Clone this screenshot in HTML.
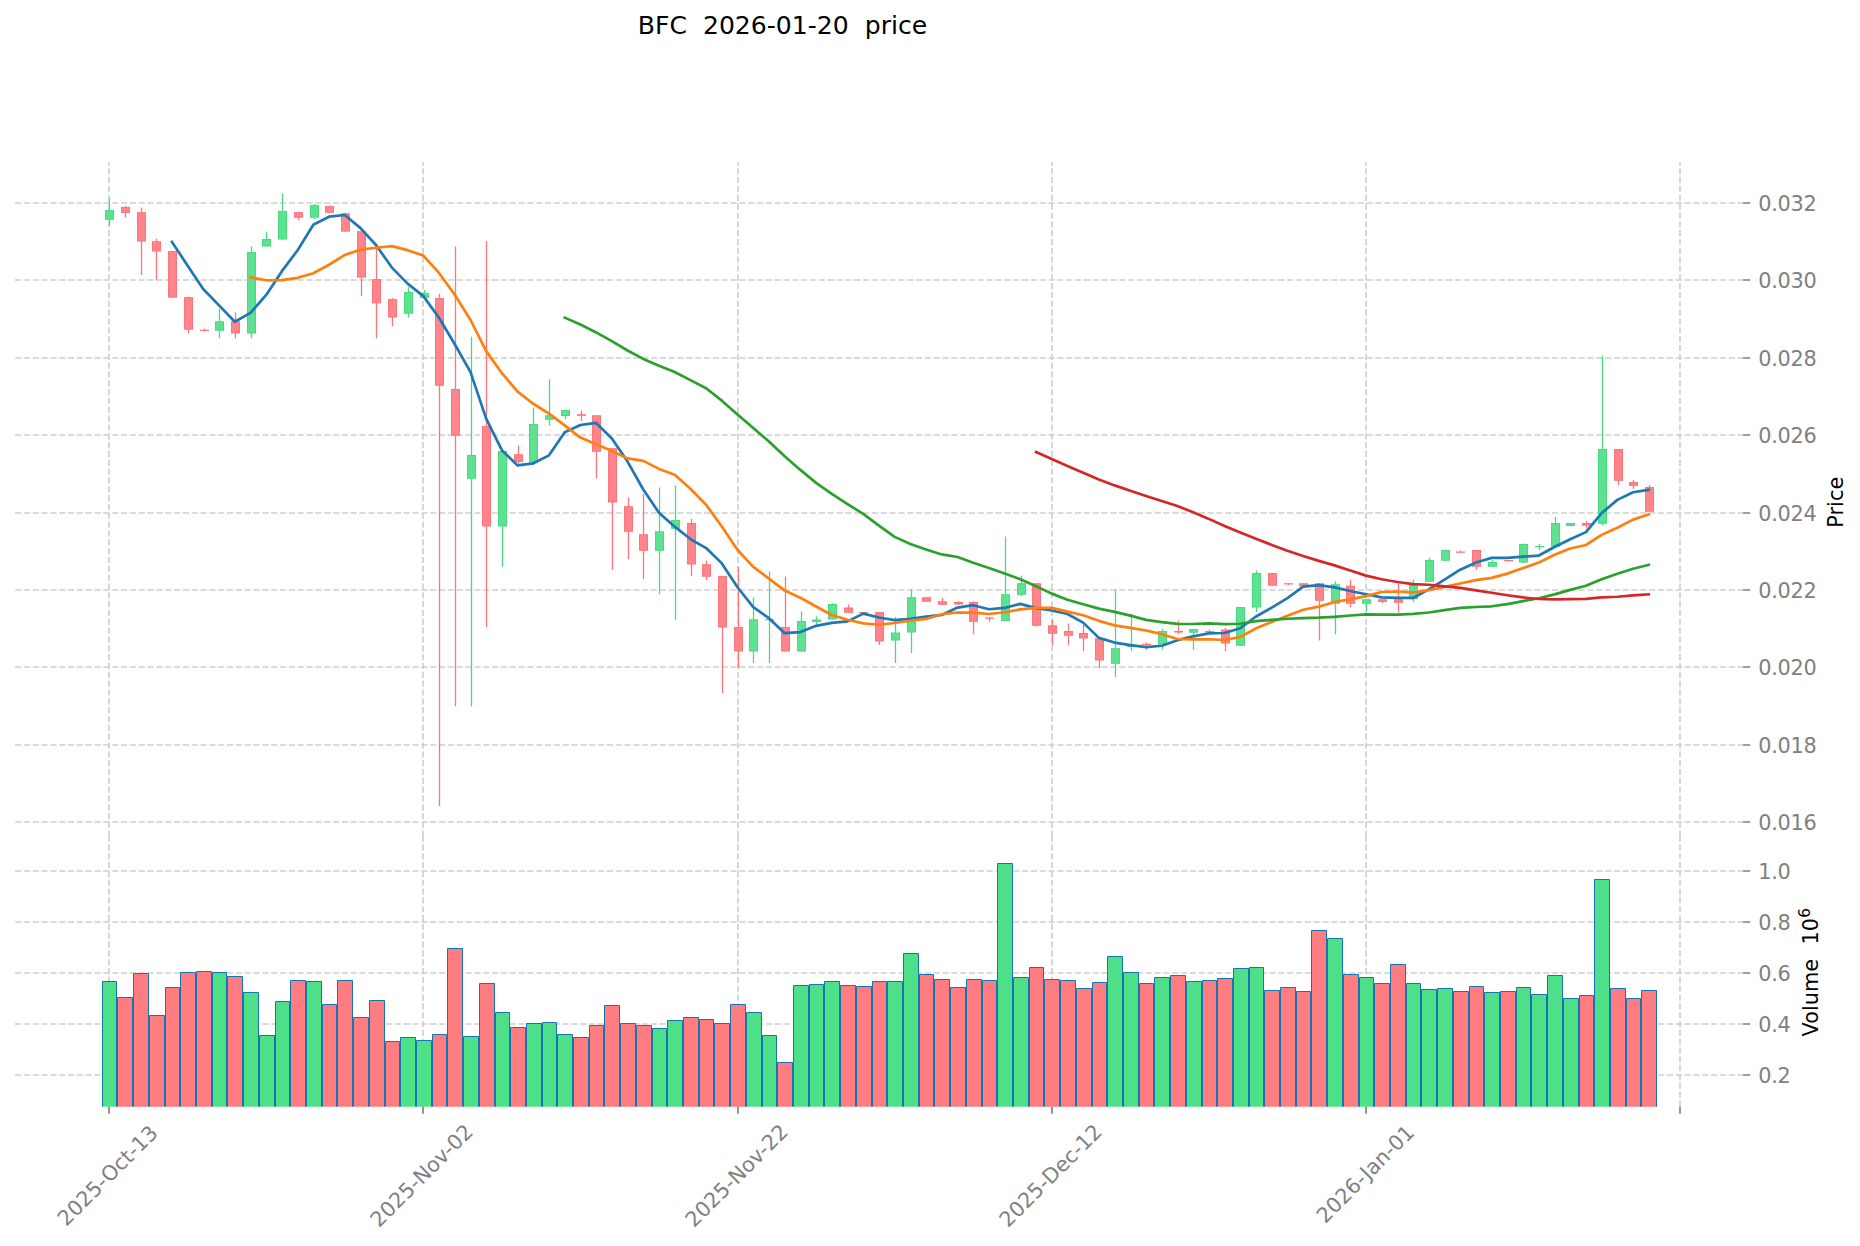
<!DOCTYPE html>
<html><head><meta charset="utf-8"><title>BFC 2026-01-20 price</title>
<style>html,body{margin:0;padding:0;background:#fff}svg{display:block}</style></head>
<body>
<svg width="1860" height="1246" viewBox="0 0 1860 1246" font-family="'DejaVu Sans', 'Liberation Sans', sans-serif">
<rect width="1860" height="1246" fill="#ffffff"/>
<path d="M15 203H1743M15 280H1743M15 358H1743M15 435H1743M15 513H1743M15 590H1743M15 667H1743M15 745H1743M15 822H1743M15 871H1743M15 922H1743M15 973H1743M15 1024H1743M15 1075H1743M109 1106.7V836.9M109 836.9V162.1M423 1106.7V836.9M423 836.9V162.1M738 1106.7V836.9M738 836.9V162.1M1052 1106.7V836.9M1052 836.9V162.1M1366 1106.7V836.9M1366 836.9V162.1M1680 1106.7V836.9M1680 836.9V162.1" fill="none" stroke="#cfcfcf" stroke-width="1.6667" stroke-dasharray="6.1667 2.6667"/>
<path d="M102.5 1106.7V981.5H116.5V1106.7" fill="#4ee088" stroke="#1474b6" stroke-width="1"/>
<path d="M117.5 1106.7V997.5H132.5V1106.7" fill="#ff7c80" stroke="#1474b6" stroke-width="1"/>
<path d="M133.5 1106.7V973.5H148.5V1106.7" fill="#ff7c80" stroke="#1474b6" stroke-width="1"/>
<path d="M149.5 1106.7V1015.5H164.5V1106.7" fill="#ff7c80" stroke="#1474b6" stroke-width="1"/>
<path d="M165.5 1106.7V987.5H179.5V1106.7" fill="#ff7c80" stroke="#1474b6" stroke-width="1"/>
<path d="M180.5 1106.7V972.5H195.5V1106.7" fill="#ff7c80" stroke="#1474b6" stroke-width="1"/>
<path d="M196.5 1106.7V971.5H211.5V1106.7" fill="#ff7c80" stroke="#1474b6" stroke-width="1"/>
<path d="M212.5 1106.7V972.5H226.5V1106.7" fill="#4ee088" stroke="#1474b6" stroke-width="1"/>
<path d="M227.5 1106.7V976.5H242.5V1106.7" fill="#ff7c80" stroke="#1474b6" stroke-width="1"/>
<path d="M243.5 1106.7V992.5H258.5V1106.7" fill="#4ee088" stroke="#1474b6" stroke-width="1"/>
<path d="M259.5 1106.7V1035.5H274.5V1106.7" fill="#4ee088" stroke="#1474b6" stroke-width="1"/>
<path d="M275.5 1106.7V1001.5H289.5V1106.7" fill="#4ee088" stroke="#1474b6" stroke-width="1"/>
<path d="M290.5 1106.7V980.5H305.5V1106.7" fill="#ff7c80" stroke="#1474b6" stroke-width="1"/>
<path d="M306.5 1106.7V981.5H321.5V1106.7" fill="#4ee088" stroke="#1474b6" stroke-width="1"/>
<path d="M322.5 1106.7V1004.5H336.5V1106.7" fill="#ff7c80" stroke="#1474b6" stroke-width="1"/>
<path d="M337.5 1106.7V980.5H352.5V1106.7" fill="#ff7c80" stroke="#1474b6" stroke-width="1"/>
<path d="M353.5 1106.7V1017.5H368.5V1106.7" fill="#ff7c80" stroke="#1474b6" stroke-width="1"/>
<path d="M369.5 1106.7V1000.5H384.5V1106.7" fill="#ff7c80" stroke="#1474b6" stroke-width="1"/>
<path d="M385.5 1106.7V1041.5H399.5V1106.7" fill="#ff7c80" stroke="#1474b6" stroke-width="1"/>
<path d="M400.5 1106.7V1037.5H415.5V1106.7" fill="#4ee088" stroke="#1474b6" stroke-width="1"/>
<path d="M416.5 1106.7V1040.5H431.5V1106.7" fill="#4ee088" stroke="#1474b6" stroke-width="1"/>
<path d="M432.5 1106.7V1034.5H446.5V1106.7" fill="#ff7c80" stroke="#1474b6" stroke-width="1"/>
<path d="M447.5 1106.7V948.5H462.5V1106.7" fill="#ff7c80" stroke="#1474b6" stroke-width="1"/>
<path d="M463.5 1106.7V1036.5H478.5V1106.7" fill="#4ee088" stroke="#1474b6" stroke-width="1"/>
<path d="M479.5 1106.7V983.5H494.5V1106.7" fill="#ff7c80" stroke="#1474b6" stroke-width="1"/>
<path d="M495.5 1106.7V1012.5H509.5V1106.7" fill="#4ee088" stroke="#1474b6" stroke-width="1"/>
<path d="M510.5 1106.7V1027.5H525.5V1106.7" fill="#ff7c80" stroke="#1474b6" stroke-width="1"/>
<path d="M526.5 1106.7V1023.5H541.5V1106.7" fill="#4ee088" stroke="#1474b6" stroke-width="1"/>
<path d="M542.5 1106.7V1022.5H556.5V1106.7" fill="#4ee088" stroke="#1474b6" stroke-width="1"/>
<path d="M557.5 1106.7V1034.5H572.5V1106.7" fill="#4ee088" stroke="#1474b6" stroke-width="1"/>
<path d="M573.5 1106.7V1037.5H588.5V1106.7" fill="#ff7c80" stroke="#1474b6" stroke-width="1"/>
<path d="M589.5 1106.7V1025.5H603.5V1106.7" fill="#ff7c80" stroke="#1474b6" stroke-width="1"/>
<path d="M604.5 1106.7V1005.5H619.5V1106.7" fill="#ff7c80" stroke="#1474b6" stroke-width="1"/>
<path d="M620.5 1106.7V1023.5H635.5V1106.7" fill="#ff7c80" stroke="#1474b6" stroke-width="1"/>
<path d="M636.5 1106.7V1025.5H651.5V1106.7" fill="#ff7c80" stroke="#1474b6" stroke-width="1"/>
<path d="M652.5 1106.7V1028.5H666.5V1106.7" fill="#4ee088" stroke="#1474b6" stroke-width="1"/>
<path d="M667.5 1106.7V1020.5H682.5V1106.7" fill="#4ee088" stroke="#1474b6" stroke-width="1"/>
<path d="M683.5 1106.7V1017.5H698.5V1106.7" fill="#ff7c80" stroke="#1474b6" stroke-width="1"/>
<path d="M699.5 1106.7V1019.5H713.5V1106.7" fill="#ff7c80" stroke="#1474b6" stroke-width="1"/>
<path d="M714.5 1106.7V1023.5H729.5V1106.7" fill="#ff7c80" stroke="#1474b6" stroke-width="1"/>
<path d="M730.5 1106.7V1004.5H745.5V1106.7" fill="#ff7c80" stroke="#1474b6" stroke-width="1"/>
<path d="M746.5 1106.7V1012.5H761.5V1106.7" fill="#4ee088" stroke="#1474b6" stroke-width="1"/>
<path d="M762.5 1106.7V1035.5H776.5V1106.7" fill="#4ee088" stroke="#1474b6" stroke-width="1"/>
<path d="M777.5 1106.7V1062.5H792.5V1106.7" fill="#ff7c80" stroke="#1474b6" stroke-width="1"/>
<path d="M793.5 1106.7V985.5H808.5V1106.7" fill="#4ee088" stroke="#1474b6" stroke-width="1"/>
<path d="M809.5 1106.7V984.5H823.5V1106.7" fill="#4ee088" stroke="#1474b6" stroke-width="1"/>
<path d="M824.5 1106.7V981.5H839.5V1106.7" fill="#4ee088" stroke="#1474b6" stroke-width="1"/>
<path d="M840.5 1106.7V985.5H855.5V1106.7" fill="#ff7c80" stroke="#1474b6" stroke-width="1"/>
<path d="M856.5 1106.7V986.5H871.5V1106.7" fill="#ff7c80" stroke="#1474b6" stroke-width="1"/>
<path d="M872.5 1106.7V981.5H886.5V1106.7" fill="#ff7c80" stroke="#1474b6" stroke-width="1"/>
<path d="M887.5 1106.7V981.5H902.5V1106.7" fill="#4ee088" stroke="#1474b6" stroke-width="1"/>
<path d="M903.5 1106.7V953.5H918.5V1106.7" fill="#4ee088" stroke="#1474b6" stroke-width="1"/>
<path d="M919.5 1106.7V974.5H933.5V1106.7" fill="#ff7c80" stroke="#1474b6" stroke-width="1"/>
<path d="M934.5 1106.7V979.5H949.5V1106.7" fill="#ff7c80" stroke="#1474b6" stroke-width="1"/>
<path d="M950.5 1106.7V987.5H965.5V1106.7" fill="#ff7c80" stroke="#1474b6" stroke-width="1"/>
<path d="M966.5 1106.7V979.5H981.5V1106.7" fill="#ff7c80" stroke="#1474b6" stroke-width="1"/>
<path d="M982.5 1106.7V980.5H996.5V1106.7" fill="#ff7c80" stroke="#1474b6" stroke-width="1"/>
<path d="M997.5 1106.7V863.5H1012.5V1106.7" fill="#4ee088" stroke="#1474b6" stroke-width="1"/>
<path d="M1013.5 1106.7V977.5H1028.5V1106.7" fill="#4ee088" stroke="#1474b6" stroke-width="1"/>
<path d="M1029.5 1106.7V967.5H1043.5V1106.7" fill="#ff7c80" stroke="#1474b6" stroke-width="1"/>
<path d="M1044.5 1106.7V979.5H1059.5V1106.7" fill="#ff7c80" stroke="#1474b6" stroke-width="1"/>
<path d="M1060.5 1106.7V980.5H1075.5V1106.7" fill="#ff7c80" stroke="#1474b6" stroke-width="1"/>
<path d="M1076.5 1106.7V988.5H1091.5V1106.7" fill="#ff7c80" stroke="#1474b6" stroke-width="1"/>
<path d="M1092.5 1106.7V982.5H1106.5V1106.7" fill="#ff7c80" stroke="#1474b6" stroke-width="1"/>
<path d="M1107.5 1106.7V956.5H1122.5V1106.7" fill="#4ee088" stroke="#1474b6" stroke-width="1"/>
<path d="M1123.5 1106.7V972.5H1138.5V1106.7" fill="#4ee088" stroke="#1474b6" stroke-width="1"/>
<path d="M1139.5 1106.7V983.5H1153.5V1106.7" fill="#ff7c80" stroke="#1474b6" stroke-width="1"/>
<path d="M1154.5 1106.7V977.5H1169.5V1106.7" fill="#4ee088" stroke="#1474b6" stroke-width="1"/>
<path d="M1170.5 1106.7V975.5H1185.5V1106.7" fill="#ff7c80" stroke="#1474b6" stroke-width="1"/>
<path d="M1186.5 1106.7V981.5H1201.5V1106.7" fill="#4ee088" stroke="#1474b6" stroke-width="1"/>
<path d="M1202.5 1106.7V980.5H1216.5V1106.7" fill="#ff7c80" stroke="#1474b6" stroke-width="1"/>
<path d="M1217.5 1106.7V978.5H1232.5V1106.7" fill="#ff7c80" stroke="#1474b6" stroke-width="1"/>
<path d="M1233.5 1106.7V968.5H1248.5V1106.7" fill="#4ee088" stroke="#1474b6" stroke-width="1"/>
<path d="M1249.5 1106.7V967.5H1263.5V1106.7" fill="#4ee088" stroke="#1474b6" stroke-width="1"/>
<path d="M1264.5 1106.7V990.5H1279.5V1106.7" fill="#ff7c80" stroke="#1474b6" stroke-width="1"/>
<path d="M1280.5 1106.7V987.5H1295.5V1106.7" fill="#ff7c80" stroke="#1474b6" stroke-width="1"/>
<path d="M1296.5 1106.7V991.5H1310.5V1106.7" fill="#ff7c80" stroke="#1474b6" stroke-width="1"/>
<path d="M1311.5 1106.7V930.5H1326.5V1106.7" fill="#ff7c80" stroke="#1474b6" stroke-width="1"/>
<path d="M1327.5 1106.7V938.5H1342.5V1106.7" fill="#4ee088" stroke="#1474b6" stroke-width="1"/>
<path d="M1343.5 1106.7V974.5H1358.5V1106.7" fill="#ff7c80" stroke="#1474b6" stroke-width="1"/>
<path d="M1359.5 1106.7V977.5H1373.5V1106.7" fill="#4ee088" stroke="#1474b6" stroke-width="1"/>
<path d="M1374.5 1106.7V983.5H1389.5V1106.7" fill="#ff7c80" stroke="#1474b6" stroke-width="1"/>
<path d="M1390.5 1106.7V964.5H1405.5V1106.7" fill="#ff7c80" stroke="#1474b6" stroke-width="1"/>
<path d="M1406.5 1106.7V983.5H1420.5V1106.7" fill="#4ee088" stroke="#1474b6" stroke-width="1"/>
<path d="M1421.5 1106.7V989.5H1436.5V1106.7" fill="#4ee088" stroke="#1474b6" stroke-width="1"/>
<path d="M1437.5 1106.7V988.5H1452.5V1106.7" fill="#4ee088" stroke="#1474b6" stroke-width="1"/>
<path d="M1453.5 1106.7V991.5H1468.5V1106.7" fill="#ff7c80" stroke="#1474b6" stroke-width="1"/>
<path d="M1469.5 1106.7V986.5H1483.5V1106.7" fill="#ff7c80" stroke="#1474b6" stroke-width="1"/>
<path d="M1484.5 1106.7V992.5H1499.5V1106.7" fill="#4ee088" stroke="#1474b6" stroke-width="1"/>
<path d="M1500.5 1106.7V991.5H1515.5V1106.7" fill="#ff7c80" stroke="#1474b6" stroke-width="1"/>
<path d="M1516.5 1106.7V987.5H1530.5V1106.7" fill="#4ee088" stroke="#1474b6" stroke-width="1"/>
<path d="M1531.5 1106.7V994.5H1546.5V1106.7" fill="#4ee088" stroke="#1474b6" stroke-width="1"/>
<path d="M1547.5 1106.7V975.5H1562.5V1106.7" fill="#4ee088" stroke="#1474b6" stroke-width="1"/>
<path d="M1563.5 1106.7V998.5H1578.5V1106.7" fill="#4ee088" stroke="#1474b6" stroke-width="1"/>
<path d="M1579.5 1106.7V995.5H1593.5V1106.7" fill="#ff7c80" stroke="#1474b6" stroke-width="1"/>
<path d="M1594.5 1106.7V879.5H1609.5V1106.7" fill="#4ee088" stroke="#1474b6" stroke-width="1"/>
<path d="M1610.5 1106.7V988.5H1625.5V1106.7" fill="#ff7c80" stroke="#1474b6" stroke-width="1"/>
<path d="M1626.5 1106.7V998.5H1640.5V1106.7" fill="#ff7c80" stroke="#1474b6" stroke-width="1"/>
<path d="M1641.5 1106.7V990.5H1656.5V1106.7" fill="#ff7c80" stroke="#1474b6" stroke-width="1"/>
<path d="M109.5 198.2V225.7" stroke="#45dc80" stroke-width="1.3" fill="none"/>
<rect x="105.5" y="210.6" width="8" height="8.7" fill="#5ee292" stroke="#45dc80" stroke-width="1"/>
<path d="M125.5 206.3V217.6" stroke="#ff737a" stroke-width="1.3" fill="none"/>
<rect x="121.5" y="207.3" width="8" height="5.1" fill="#ff858b" stroke="#ff737a" stroke-width="1"/>
<path d="M141.5 207.6V275.1" stroke="#ff737a" stroke-width="1.3" fill="none"/>
<rect x="137.5" y="212.7" width="8" height="28.3" fill="#ff858b" stroke="#ff737a" stroke-width="1"/>
<path d="M156.5 238.7V280.1" stroke="#ff737a" stroke-width="1.3" fill="none"/>
<rect x="152.5" y="241.7" width="8" height="9.4" fill="#ff858b" stroke="#ff737a" stroke-width="1"/>
<path d="M172.5 251.1V298.1" stroke="#ff737a" stroke-width="1.3" fill="none"/>
<rect x="168.5" y="251.6" width="8" height="45.5" fill="#ff858b" stroke="#ff737a" stroke-width="1"/>
<path d="M188.5 296.6V333.2" stroke="#ff737a" stroke-width="1.3" fill="none"/>
<rect x="184.5" y="297.6" width="8" height="31.6" fill="#ff858b" stroke="#ff737a" stroke-width="1"/>
<path d="M204.5 328.4V331.5" stroke="#ff737a" stroke-width="1.3" fill="none"/>
<rect x="200.5" y="330.2" width="8" height="0.2" fill="#ff858b" stroke="#ff737a" stroke-width="1"/>
<path d="M219.5 308.7V338.3" stroke="#45dc80" stroke-width="1.3" fill="none"/>
<rect x="215.5" y="321.8" width="8" height="8.4" fill="#5ee292" stroke="#45dc80" stroke-width="1"/>
<path d="M235.5 312.5V338.3" stroke="#ff737a" stroke-width="1.3" fill="none"/>
<rect x="231.5" y="321.8" width="8" height="11.2" fill="#ff858b" stroke="#ff737a" stroke-width="1"/>
<path d="M251.5 246.5V338.3" stroke="#45dc80" stroke-width="1.3" fill="none"/>
<rect x="247.5" y="252.6" width="8" height="80.4" fill="#5ee292" stroke="#45dc80" stroke-width="1"/>
<path d="M266.5 231.6V246.5" stroke="#45dc80" stroke-width="1.3" fill="none"/>
<rect x="262.5" y="239.5" width="8" height="6.5" fill="#5ee292" stroke="#45dc80" stroke-width="1"/>
<path d="M282.5 193.5V239.5" stroke="#45dc80" stroke-width="1.3" fill="none"/>
<rect x="278.5" y="211.4" width="8" height="27.6" fill="#5ee292" stroke="#45dc80" stroke-width="1"/>
<path d="M298.5 211.7V220.3" stroke="#ff737a" stroke-width="1.3" fill="none"/>
<rect x="294.5" y="212.7" width="8" height="4.5" fill="#ff858b" stroke="#ff737a" stroke-width="1"/>
<path d="M314.5 203.8V219" stroke="#45dc80" stroke-width="1.3" fill="none"/>
<rect x="310.5" y="205.6" width="8" height="11.6" fill="#5ee292" stroke="#45dc80" stroke-width="1"/>
<path d="M329.5 205.6V213.2" stroke="#ff737a" stroke-width="1.3" fill="none"/>
<rect x="325.5" y="206.6" width="8" height="5.6" fill="#ff858b" stroke="#ff737a" stroke-width="1"/>
<path d="M345.5 212.7V231.6" stroke="#ff737a" stroke-width="1.3" fill="none"/>
<rect x="341.5" y="213.7" width="8" height="17.4" fill="#ff858b" stroke="#ff737a" stroke-width="1"/>
<path d="M361.5 231.1V296.1" stroke="#ff737a" stroke-width="1.3" fill="none"/>
<rect x="357.5" y="231.6" width="8" height="45.5" fill="#ff858b" stroke="#ff737a" stroke-width="1"/>
<path d="M376.5 246V338.3" stroke="#ff737a" stroke-width="1.3" fill="none"/>
<rect x="372.5" y="279.6" width="8" height="23.3" fill="#ff858b" stroke="#ff737a" stroke-width="1"/>
<path d="M392.5 298.1V326.1" stroke="#ff737a" stroke-width="1.3" fill="none"/>
<rect x="388.5" y="299.6" width="8" height="17.5" fill="#ff858b" stroke="#ff737a" stroke-width="1"/>
<path d="M408.5 287V317.5" stroke="#45dc80" stroke-width="1.3" fill="none"/>
<rect x="404.5" y="292.5" width="8" height="20.75" fill="#5ee292" stroke="#45dc80" stroke-width="1"/>
<path d="M424.5 290V298" stroke="#45dc80" stroke-width="1.3" fill="none"/>
<rect x="420.5" y="293.5" width="8" height="4" fill="#5ee292" stroke="#45dc80" stroke-width="1"/>
<path d="M439.5 293.75V806" stroke="#ff737a" stroke-width="1.3" fill="none"/>
<rect x="435.5" y="298.5" width="8" height="86.75" fill="#ff858b" stroke="#ff737a" stroke-width="1"/>
<path d="M455.5 246.5V706.25" stroke="#ff737a" stroke-width="1.3" fill="none"/>
<rect x="451.5" y="389.5" width="8" height="45.75" fill="#ff858b" stroke="#ff737a" stroke-width="1"/>
<path d="M471.5 336.75V706.25" stroke="#45dc80" stroke-width="1.3" fill="none"/>
<rect x="467.5" y="455.5" width="8" height="22.75" fill="#5ee292" stroke="#45dc80" stroke-width="1"/>
<path d="M486.5 241.25V627" stroke="#ff737a" stroke-width="1.3" fill="none"/>
<rect x="482.5" y="426.5" width="8" height="99.5" fill="#ff858b" stroke="#ff737a" stroke-width="1"/>
<path d="M502.5 451V567" stroke="#45dc80" stroke-width="1.3" fill="none"/>
<rect x="498.5" y="451.5" width="8" height="74.5" fill="#5ee292" stroke="#45dc80" stroke-width="1"/>
<path d="M518.5 445.5V463.75" stroke="#ff737a" stroke-width="1.3" fill="none"/>
<rect x="514.5" y="454.75" width="8" height="6.75" fill="#ff858b" stroke="#ff737a" stroke-width="1"/>
<path d="M533.5 407.5V465.5" stroke="#45dc80" stroke-width="1.3" fill="none"/>
<rect x="529.5" y="424.5" width="8" height="37.5" fill="#5ee292" stroke="#45dc80" stroke-width="1"/>
<path d="M549.5 379.5V425.5" stroke="#45dc80" stroke-width="1.3" fill="none"/>
<rect x="545.5" y="415.75" width="8" height="3.5" fill="#5ee292" stroke="#45dc80" stroke-width="1"/>
<path d="M565.5 410V419.25" stroke="#45dc80" stroke-width="1.3" fill="none"/>
<rect x="561.5" y="410.5" width="8" height="5" fill="#5ee292" stroke="#45dc80" stroke-width="1"/>
<path d="M581.5 410.5V421" stroke="#ff737a" stroke-width="1.3" fill="none"/>
<rect x="577.5" y="414.75" width="8" height="0.5" fill="#ff858b" stroke="#ff737a" stroke-width="1"/>
<path d="M596.5 415.25V478.25" stroke="#ff737a" stroke-width="1.3" fill="none"/>
<rect x="592.5" y="415.75" width="8" height="35.5" fill="#ff858b" stroke="#ff737a" stroke-width="1"/>
<path d="M612.5 448.25V570" stroke="#ff737a" stroke-width="1.3" fill="none"/>
<rect x="608.5" y="448.75" width="8" height="53.25" fill="#ff858b" stroke="#ff737a" stroke-width="1"/>
<path d="M628.5 497.5V559.25" stroke="#ff737a" stroke-width="1.3" fill="none"/>
<rect x="624.5" y="506.75" width="8" height="24.5" fill="#ff858b" stroke="#ff737a" stroke-width="1"/>
<path d="M643.5 493.75V579" stroke="#ff737a" stroke-width="1.3" fill="none"/>
<rect x="639.5" y="534.75" width="8" height="15.5" fill="#ff858b" stroke="#ff737a" stroke-width="1"/>
<path d="M659.5 487.5V594.25" stroke="#45dc80" stroke-width="1.3" fill="none"/>
<rect x="655.5" y="531.75" width="8" height="18.5" fill="#5ee292" stroke="#45dc80" stroke-width="1"/>
<path d="M675.5 485.5V620" stroke="#45dc80" stroke-width="1.3" fill="none"/>
<rect x="671.5" y="520.5" width="8" height="7.75" fill="#5ee292" stroke="#45dc80" stroke-width="1"/>
<path d="M691.5 518.75V576" stroke="#ff737a" stroke-width="1.3" fill="none"/>
<rect x="687.5" y="523.5" width="8" height="40.5" fill="#ff858b" stroke="#ff737a" stroke-width="1"/>
<path d="M706.5 560.5V580" stroke="#ff737a" stroke-width="1.3" fill="none"/>
<rect x="702.5" y="564.75" width="8" height="11.5" fill="#ff858b" stroke="#ff737a" stroke-width="1"/>
<path d="M722.5 576V693" stroke="#ff737a" stroke-width="1.3" fill="none"/>
<rect x="718.5" y="576.5" width="8" height="50.5" fill="#ff858b" stroke="#ff737a" stroke-width="1"/>
<path d="M738.5 567V668" stroke="#ff737a" stroke-width="1.3" fill="none"/>
<rect x="734.5" y="627.5" width="8" height="23.5" fill="#ff858b" stroke="#ff737a" stroke-width="1"/>
<path d="M753.5 597.5V663" stroke="#45dc80" stroke-width="1.3" fill="none"/>
<rect x="749.5" y="619.75" width="8" height="31.25" fill="#5ee292" stroke="#45dc80" stroke-width="1"/>
<path d="M769.5 571.5V663" stroke="#45dc80" stroke-width="1.3" fill="none"/>
<rect x="765.5" y="619.5" width="8" height="0.2" fill="#5ee292" stroke="#45dc80" stroke-width="1"/>
<path d="M785.5 576.5V651.5" stroke="#ff737a" stroke-width="1.3" fill="none"/>
<rect x="781.5" y="627.5" width="8" height="23.5" fill="#ff858b" stroke="#ff737a" stroke-width="1"/>
<path d="M801.5 611.5V651.5" stroke="#45dc80" stroke-width="1.3" fill="none"/>
<rect x="797.5" y="621.5" width="8" height="29.5" fill="#5ee292" stroke="#45dc80" stroke-width="1"/>
<path d="M816.5 616.25V624.25" stroke="#45dc80" stroke-width="1.3" fill="none"/>
<rect x="812.5" y="620" width="8" height="1.5" fill="#5ee292" stroke="#45dc80" stroke-width="1"/>
<path d="M832.5 603.25V619.5" stroke="#45dc80" stroke-width="1.3" fill="none"/>
<rect x="828.5" y="604.5" width="8" height="14.5" fill="#5ee292" stroke="#45dc80" stroke-width="1"/>
<path d="M848.5 604.5V612.75" stroke="#ff737a" stroke-width="1.3" fill="none"/>
<rect x="844.5" y="608" width="8" height="4.25" fill="#ff858b" stroke="#ff737a" stroke-width="1"/>
<path d="M863.5 612V612.75" stroke="#ff737a" stroke-width="1.3" fill="none"/>
<rect x="859.5" y="612.5" width="8" height="0.2" fill="#ff858b" stroke="#ff737a" stroke-width="1"/>
<path d="M879.5 612V645" stroke="#ff737a" stroke-width="1.3" fill="none"/>
<rect x="875.5" y="612.5" width="8" height="28.5" fill="#ff858b" stroke="#ff737a" stroke-width="1"/>
<path d="M895.5 617V663" stroke="#45dc80" stroke-width="1.3" fill="none"/>
<rect x="891.5" y="633" width="8" height="7" fill="#5ee292" stroke="#45dc80" stroke-width="1"/>
<path d="M911.5 589.25V653" stroke="#45dc80" stroke-width="1.3" fill="none"/>
<rect x="907.5" y="597.75" width="8" height="34.25" fill="#5ee292" stroke="#45dc80" stroke-width="1"/>
<path d="M926.5 597.25V601.75" stroke="#ff737a" stroke-width="1.3" fill="none"/>
<rect x="922.5" y="597.75" width="8" height="3.5" fill="#ff858b" stroke="#ff737a" stroke-width="1"/>
<path d="M942.5 598V604.75" stroke="#ff737a" stroke-width="1.3" fill="none"/>
<rect x="938.5" y="601.75" width="8" height="2.5" fill="#ff858b" stroke="#ff737a" stroke-width="1"/>
<path d="M958.5 601.25V605" stroke="#ff737a" stroke-width="1.3" fill="none"/>
<rect x="954.5" y="602.5" width="8" height="1.5" fill="#ff858b" stroke="#ff737a" stroke-width="1"/>
<path d="M973.5 601.25V634.25" stroke="#ff737a" stroke-width="1.3" fill="none"/>
<rect x="969.5" y="602.5" width="8" height="18.75" fill="#ff858b" stroke="#ff737a" stroke-width="1"/>
<path d="M989.5 617V621.75" stroke="#ff737a" stroke-width="1.3" fill="none"/>
<rect x="985.5" y="618" width="8" height="0.2" fill="#ff858b" stroke="#ff737a" stroke-width="1"/>
<path d="M1005.5 536.5V621" stroke="#45dc80" stroke-width="1.3" fill="none"/>
<rect x="1001.5" y="594.75" width="8" height="25.75" fill="#5ee292" stroke="#45dc80" stroke-width="1"/>
<path d="M1021.5 575.5V596" stroke="#45dc80" stroke-width="1.3" fill="none"/>
<rect x="1017.5" y="583.75" width="8" height="10.5" fill="#5ee292" stroke="#45dc80" stroke-width="1"/>
<path d="M1036.5 583.25V626.5" stroke="#ff737a" stroke-width="1.3" fill="none"/>
<rect x="1032.5" y="583.75" width="8" height="41.5" fill="#ff858b" stroke="#ff737a" stroke-width="1"/>
<path d="M1052.5 619.5V645" stroke="#ff737a" stroke-width="1.3" fill="none"/>
<rect x="1048.5" y="625.75" width="8" height="7.5" fill="#ff858b" stroke="#ff737a" stroke-width="1"/>
<path d="M1068.5 623.5V645" stroke="#ff737a" stroke-width="1.3" fill="none"/>
<rect x="1064.5" y="631.5" width="8" height="3.75" fill="#ff858b" stroke="#ff737a" stroke-width="1"/>
<path d="M1083.5 625V651" stroke="#ff737a" stroke-width="1.3" fill="none"/>
<rect x="1079.5" y="633.5" width="8" height="4.5" fill="#ff858b" stroke="#ff737a" stroke-width="1"/>
<path d="M1099.5 638.25V668.25" stroke="#ff737a" stroke-width="1.3" fill="none"/>
<rect x="1095.5" y="638.75" width="8" height="21.25" fill="#ff858b" stroke="#ff737a" stroke-width="1"/>
<path d="M1115.5 589.25V677.25" stroke="#45dc80" stroke-width="1.3" fill="none"/>
<rect x="1111.5" y="648.75" width="8" height="14.5" fill="#5ee292" stroke="#45dc80" stroke-width="1"/>
<path d="M1131.5 613.75V651" stroke="#45dc80" stroke-width="1.3" fill="none"/>
<rect x="1127.5" y="646.5" width="8" height="0.2" fill="#5ee292" stroke="#45dc80" stroke-width="1"/>
<path d="M1146.5 642.5V650" stroke="#ff737a" stroke-width="1.3" fill="none"/>
<rect x="1142.5" y="644.25" width="8" height="0.25" fill="#ff858b" stroke="#ff737a" stroke-width="1"/>
<path d="M1162.5 628.75V649.5" stroke="#45dc80" stroke-width="1.3" fill="none"/>
<rect x="1158.5" y="631.5" width="8" height="12.5" fill="#5ee292" stroke="#45dc80" stroke-width="1"/>
<path d="M1178.5 620.5V634.25" stroke="#ff737a" stroke-width="1.3" fill="none"/>
<rect x="1174.5" y="631.5" width="8" height="0.5" fill="#ff858b" stroke="#ff737a" stroke-width="1"/>
<path d="M1193.5 629V650" stroke="#45dc80" stroke-width="1.3" fill="none"/>
<rect x="1189.5" y="629.5" width="8" height="2.75" fill="#5ee292" stroke="#45dc80" stroke-width="1"/>
<path d="M1209.5 629.5V632.5" stroke="#ff737a" stroke-width="1.3" fill="none"/>
<rect x="1205.5" y="631.5" width="8" height="0.2" fill="#ff858b" stroke="#ff737a" stroke-width="1"/>
<path d="M1225.5 628V651.25" stroke="#ff737a" stroke-width="1.3" fill="none"/>
<rect x="1221.5" y="630" width="8" height="13" fill="#ff858b" stroke="#ff737a" stroke-width="1"/>
<path d="M1240.5 607V645.75" stroke="#45dc80" stroke-width="1.3" fill="none"/>
<rect x="1236.5" y="607.5" width="8" height="37.75" fill="#5ee292" stroke="#45dc80" stroke-width="1"/>
<path d="M1256.5 570.5V612" stroke="#45dc80" stroke-width="1.3" fill="none"/>
<rect x="1252.5" y="573.5" width="8" height="33.5" fill="#5ee292" stroke="#45dc80" stroke-width="1"/>
<path d="M1272.5 573V585.75" stroke="#ff737a" stroke-width="1.3" fill="none"/>
<rect x="1268.5" y="573.5" width="8" height="11.75" fill="#ff858b" stroke="#ff737a" stroke-width="1"/>
<path d="M1288.5 583.25V585.25" stroke="#ff737a" stroke-width="1.3" fill="none"/>
<rect x="1284.5" y="583.75" width="8" height="0.2" fill="#ff858b" stroke="#ff737a" stroke-width="1"/>
<path d="M1303.5 583.25V586.25" stroke="#ff737a" stroke-width="1.3" fill="none"/>
<rect x="1299.5" y="583.75" width="8" height="2" fill="#ff858b" stroke="#ff737a" stroke-width="1"/>
<path d="M1319.5 583.25V640.5" stroke="#ff737a" stroke-width="1.3" fill="none"/>
<rect x="1315.5" y="583.75" width="8" height="16.5" fill="#ff858b" stroke="#ff737a" stroke-width="1"/>
<path d="M1335.5 581.25V634.25" stroke="#45dc80" stroke-width="1.3" fill="none"/>
<rect x="1331.5" y="584.75" width="8" height="18.5" fill="#5ee292" stroke="#45dc80" stroke-width="1"/>
<path d="M1350.5 579.5V607.5" stroke="#ff737a" stroke-width="1.3" fill="none"/>
<rect x="1346.5" y="586.25" width="8" height="17" fill="#ff858b" stroke="#ff737a" stroke-width="1"/>
<path d="M1366.5 599.25V611.25" stroke="#45dc80" stroke-width="1.3" fill="none"/>
<rect x="1362.5" y="599.75" width="8" height="3.5" fill="#5ee292" stroke="#45dc80" stroke-width="1"/>
<path d="M1382.5 599.25V603.25" stroke="#ff737a" stroke-width="1.3" fill="none"/>
<rect x="1378.5" y="599.75" width="8" height="1.75" fill="#ff858b" stroke="#ff737a" stroke-width="1"/>
<path d="M1398.5 583.75V612.5" stroke="#ff737a" stroke-width="1.3" fill="none"/>
<rect x="1394.5" y="599.75" width="8" height="2.5" fill="#ff858b" stroke="#ff737a" stroke-width="1"/>
<path d="M1413.5 579.5V602" stroke="#45dc80" stroke-width="1.3" fill="none"/>
<rect x="1409.5" y="585.5" width="8" height="13.25" fill="#5ee292" stroke="#45dc80" stroke-width="1"/>
<path d="M1429.5 557.5V581.75" stroke="#45dc80" stroke-width="1.3" fill="none"/>
<rect x="1425.5" y="560.5" width="8" height="20.75" fill="#5ee292" stroke="#45dc80" stroke-width="1"/>
<path d="M1445.5 550V560.75" stroke="#45dc80" stroke-width="1.3" fill="none"/>
<rect x="1441.5" y="550.5" width="8" height="9.75" fill="#5ee292" stroke="#45dc80" stroke-width="1"/>
<path d="M1460.5 550.5V552.5" stroke="#ff737a" stroke-width="1.3" fill="none"/>
<rect x="1456.5" y="552" width="8" height="0.2" fill="#ff858b" stroke="#ff737a" stroke-width="1"/>
<path d="M1476.5 550V570" stroke="#ff737a" stroke-width="1.3" fill="none"/>
<rect x="1472.5" y="550.5" width="8" height="15.75" fill="#ff858b" stroke="#ff737a" stroke-width="1"/>
<path d="M1492.5 560V566.75" stroke="#45dc80" stroke-width="1.3" fill="none"/>
<rect x="1488.5" y="562.5" width="8" height="3.75" fill="#5ee292" stroke="#45dc80" stroke-width="1"/>
<path d="M1508.5 560V562" stroke="#ff737a" stroke-width="1.3" fill="none"/>
<rect x="1504.5" y="560.5" width="8" height="0.2" fill="#ff858b" stroke="#ff737a" stroke-width="1"/>
<path d="M1523.5 543.5V562.6" stroke="#45dc80" stroke-width="1.3" fill="none"/>
<rect x="1519.5" y="544.5" width="8" height="17.6" fill="#5ee292" stroke="#45dc80" stroke-width="1"/>
<path d="M1539.5 544V550" stroke="#45dc80" stroke-width="1.3" fill="none"/>
<rect x="1535.5" y="546.5" width="8" height="0.2" fill="#5ee292" stroke="#45dc80" stroke-width="1"/>
<path d="M1555.5 517V548" stroke="#45dc80" stroke-width="1.3" fill="none"/>
<rect x="1551.5" y="523.5" width="8" height="22.7" fill="#5ee292" stroke="#45dc80" stroke-width="1"/>
<path d="M1570.5 523V526" stroke="#45dc80" stroke-width="1.3" fill="none"/>
<rect x="1566.5" y="523.5" width="8" height="2" fill="#5ee292" stroke="#45dc80" stroke-width="1"/>
<path d="M1586.5 521V528.5" stroke="#ff737a" stroke-width="1.3" fill="none"/>
<rect x="1582.5" y="523.5" width="8" height="1.7" fill="#ff858b" stroke="#ff737a" stroke-width="1"/>
<path d="M1602.5 356V525.5" stroke="#45dc80" stroke-width="1.3" fill="none"/>
<rect x="1598.5" y="449.5" width="8" height="73.7" fill="#5ee292" stroke="#45dc80" stroke-width="1"/>
<path d="M1618.5 449V485" stroke="#ff737a" stroke-width="1.3" fill="none"/>
<rect x="1614.5" y="449.5" width="8" height="30.8" fill="#ff858b" stroke="#ff737a" stroke-width="1"/>
<path d="M1633.5 480V489" stroke="#ff737a" stroke-width="1.3" fill="none"/>
<rect x="1629.5" y="482.5" width="8" height="2.8" fill="#ff858b" stroke="#ff737a" stroke-width="1"/>
<path d="M1649.5 485V511.7" stroke="#ff737a" stroke-width="1.3" fill="none"/>
<rect x="1645.5" y="487.5" width="8" height="23.7" fill="#ff858b" stroke="#ff737a" stroke-width="1"/>
<path d="M171.94 241.94L187.66 265.66L203.37 289.22L219.08 305.38L234.79 321.76L250.5 312.86L266.21 294.92L281.92 271.16L297.63 250.24L313.34 224.76L329.05 216.68L344.76 215L360.48 228.14L376.19 245.28L391.9 267.58L407.61 283.64L423.32 296.12L439.03 317.75L454.74 344.22L470.45 371.9L486.16 418.6L501.88 450.2L517.59 465.45L533.3 463.3L549.01 455.35L564.72 432.25L580.43 425L596.14 422.95L611.85 438.45L627.56 461.55L643.27 489.5L658.99 512.8L674.7 526.65L690.41 539.05L706.12 548.05L721.83 563.4L737.54 587.25L753.25 607.1L768.96 618.2L784.67 633.15L800.38 632.05L816.1 625.85L831.81 622.8L847.52 621.35L863.23 613.6L878.94 617.5L894.65 620.1L910.36 618.75L926.07 616.55L941.78 614.95L957.49 607.55L973.21 605.2L988.92 609.25L1004.63 607.95L1020.34 603.85L1036.05 608.1L1051.76 610.5L1067.47 613.95L1083.18 622.6L1098.89 637.85L1114.6 642.55L1130.32 645.2L1146.03 647.05L1161.74 645.75L1177.45 640.15L1193.16 636.3L1208.87 633.3L1224.58 633L1240.29 628.2L1256 616.5L1271.71 607.65L1287.42 598.05L1303.14 586.6L1318.85 585.15L1334.56 587.4L1350.27 591L1365.98 594.25L1381.69 597.4L1397.4 597.8L1413.11 597.95L1428.82 589.4L1444.53 579.55L1460.25 569.65L1475.96 562.45L1491.67 557.85L1507.38 557.85L1523.09 556.65L1538.8 555.55L1554.51 547L1570.22 539.2L1585.93 532.14L1601.64 513.14L1617.36 499.9L1633.07 492.26L1648.78 489.8" fill="none" stroke="#1f77b4" stroke-width="2.7" stroke-linejoin="round" stroke-linecap="square"/>
<path d="M250.5 277.4L266.21 280.29L281.92 280.19L297.63 277.81L313.34 273.26L329.05 264.77L344.76 254.96L360.48 249.65L376.19 247.76L391.9 246.17L407.61 250.16L423.32 255.56L439.03 272.94L454.74 294.75L470.45 319.74L486.16 351.12L501.88 373.16L517.59 391.6L533.3 403.76L549.01 413.62L564.72 425.43L580.43 437.6L596.14 444.2L611.85 450.88L627.56 458.45L643.27 460.88L658.99 468.9L674.7 474.8L690.41 488.75L706.12 504.8L721.83 526.45L737.54 550.02L753.25 566.88L768.96 578.62L784.67 590.6L800.38 597.73L816.1 606.55L831.81 614.95L847.52 619.77L863.23 623.38L878.94 624.77L894.65 622.98L910.36 620.77L926.07 618.95L941.78 614.27L957.49 612.52L973.21 612.65L988.92 614L1004.63 612.25L1020.34 609.4L1036.05 607.83L1051.76 607.85L1067.47 611.6L1083.18 615.27L1098.89 620.85L1114.6 625.33L1130.32 627.85L1146.03 630.5L1161.74 634.17L1177.45 639L1193.16 639.42L1208.87 639.25L1224.58 640.02L1240.29 636.98L1256 628.33L1271.71 621.98L1287.42 615.67L1303.14 609.8L1318.85 606.67L1334.56 601.95L1350.27 599.33L1365.98 596.15L1381.69 592L1397.4 591.48L1413.11 592.67L1428.82 590.2L1444.53 586.9L1460.25 583.52L1475.96 580.12L1491.67 577.9L1507.38 573.62L1523.09 568.1L1538.8 562.6L1554.51 554.73L1570.22 548.52L1585.93 545L1601.64 534.89L1617.36 527.73L1633.07 519.63L1648.78 514.5" fill="none" stroke="#ff7f0e" stroke-width="2.7" stroke-linejoin="round" stroke-linecap="square"/>
<path d="M564.72 317.66L580.43 324.48L596.14 332.44L611.85 341.15L627.56 350.48L643.27 358.92L658.99 365.67L674.7 372.02L690.41 380.09L706.12 388.2L721.83 400.68L737.54 414.4L753.25 428.01L768.96 441.42L784.67 456.26L800.38 469.91L816.1 482.87L831.81 493.78L847.52 504.1L863.23 513.93L878.94 525.55L894.65 536.87L910.36 543.95L926.07 549.48L941.78 554.44L957.49 557.04L973.21 562.7L988.92 567.92L1004.63 573.59L1020.34 579.19L1036.05 586.35L1051.76 593.62L1067.47 599.75L1083.18 604.28L1098.89 608.58L1114.6 611.86L1130.32 615.68L1146.03 619.82L1161.74 622.07L1177.45 623.92L1193.16 624.01L1208.87 623.36L1224.58 624.13L1240.29 623.73L1256 621.15L1271.71 619.94L1287.42 618.73L1303.14 618.1L1318.85 617.7L1334.56 616.78L1350.27 615.52L1365.98 614.42L1381.69 614.54L1397.4 614.58L1413.11 613.95L1428.82 612.5L1444.53 610.14L1460.25 607.94L1475.96 606.99L1491.67 606.28L1507.38 604.12L1523.09 601.17L1538.8 598.21L1554.51 594.39L1570.22 589.84L1585.93 585.72L1601.64 579.16L1617.36 573.68L1633.07 568.81L1648.78 564.78" fill="none" stroke="#2ca02c" stroke-width="2.7" stroke-linejoin="round" stroke-linecap="square"/>
<path d="M1036.05 452.01L1051.76 459.05L1067.47 466.1L1083.18 472.71L1098.89 479.53L1114.6 485.39L1130.32 490.68L1146.03 495.92L1161.74 501.08L1177.45 506.06L1193.16 512.34L1208.87 518.88L1224.58 526.07L1240.29 532.58L1256 538.71L1271.71 544.92L1287.42 550.8L1303.14 555.94L1318.85 560.9L1334.56 565.36L1350.27 570.54L1365.98 575.64L1381.69 579.25L1397.4 582.03L1413.11 584.2L1428.82 584.77L1444.53 586.42L1460.25 587.93L1475.96 590.29L1491.67 592.74L1507.38 595.24L1523.09 597.39L1538.8 598.98L1554.51 599.34L1570.22 599.21L1585.93 598.79L1601.64 597.42L1617.36 596.75L1633.07 595.44L1648.78 594.35" fill="none" stroke="#d62728" stroke-width="2.7" stroke-linejoin="round" stroke-linecap="square"/>
<path d="M1743 203h7.2M1743 280h7.2M1743 358h7.2M1743 435h7.2M1743 513h7.2M1743 590h7.2M1743 667h7.2M1743 745h7.2M1743 822h7.2M1743 871h7.2M1743 922h7.2M1743 973h7.2M1743 1024h7.2M1743 1075h7.2M109 1106.7v7M423 1106.7v7M738 1106.7v7M1052 1106.7v7M1366 1106.7v7M1680 1106.7v7" fill="none" stroke="#808080" stroke-width="1.67"/>
<text x="1758.3" y="211" font-size="20.83" letter-spacing="-0.3" fill="#808080">0.032</text>
<text x="1758.3" y="288" font-size="20.83" letter-spacing="-0.3" fill="#808080">0.030</text>
<text x="1758.3" y="366" font-size="20.83" letter-spacing="-0.3" fill="#808080">0.028</text>
<text x="1758.3" y="443" font-size="20.83" letter-spacing="-0.3" fill="#808080">0.026</text>
<text x="1758.3" y="521" font-size="20.83" letter-spacing="-0.3" fill="#808080">0.024</text>
<text x="1758.3" y="598" font-size="20.83" letter-spacing="-0.3" fill="#808080">0.022</text>
<text x="1758.3" y="675" font-size="20.83" letter-spacing="-0.3" fill="#808080">0.020</text>
<text x="1758.3" y="753" font-size="20.83" letter-spacing="-0.3" fill="#808080">0.018</text>
<text x="1758.3" y="830" font-size="20.83" letter-spacing="-0.3" fill="#808080">0.016</text>
<text x="1758.3" y="879" font-size="20.83" letter-spacing="-0.3" fill="#808080">1.0</text>
<text x="1758.3" y="930" font-size="20.83" letter-spacing="-0.3" fill="#808080">0.8</text>
<text x="1758.3" y="981" font-size="20.83" letter-spacing="-0.3" fill="#808080">0.6</text>
<text x="1758.3" y="1032" font-size="20.83" letter-spacing="-0.3" fill="#808080">0.4</text>
<text x="1758.3" y="1083" font-size="20.83" letter-spacing="-0.3" fill="#808080">0.2</text>
<text transform="translate(107.3 1175.3) rotate(-45)" text-anchor="middle" y="7.6" font-size="20.83" fill="#808080">2025-Oct-13</text>
<text transform="translate(421.3 1175.3) rotate(-45)" text-anchor="middle" y="7.6" font-size="20.83" fill="#808080">2025-Nov-02</text>
<text transform="translate(736.3 1175.3) rotate(-45)" text-anchor="middle" y="7.6" font-size="20.83" fill="#808080">2025-Nov-22</text>
<text transform="translate(1050.3 1175.3) rotate(-45)" text-anchor="middle" y="7.6" font-size="20.83" fill="#808080">2025-Dec-12</text>
<text transform="translate(1365.05 1173.6) rotate(-45)" text-anchor="middle" y="7.6" font-size="20.83" fill="#808080">2026-Jan-01</text>
<text transform="translate(1843.1 502.2) rotate(-90)" text-anchor="middle" font-size="20.83" letter-spacing="0.1" fill="#000">Price</text>
<text transform="translate(1818 972.2) rotate(-90)" text-anchor="middle" font-size="20.83" fill="#000" xml:space="preserve">Volume  <tspan dx="1.3">10</tspan><tspan dy="-8" dx="0.3" font-size="15.3">6</tspan></text>
<text x="782.5" y="33.7" text-anchor="middle" font-size="25.1" fill="#000" xml:space="preserve">BFC  2026-01-20  price</text>
</svg>
</body></html>
